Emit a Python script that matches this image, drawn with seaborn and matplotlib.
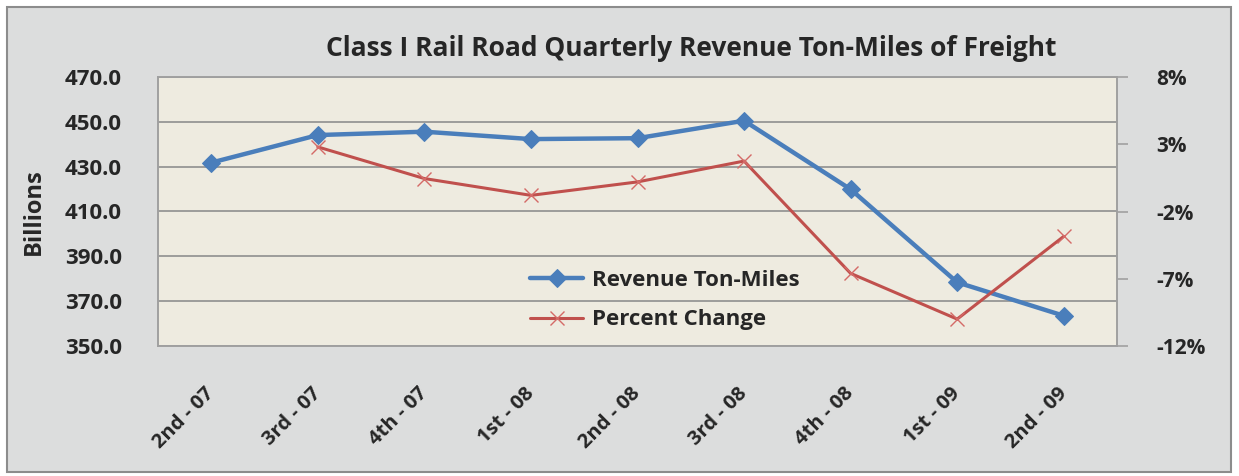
import matplotlib
matplotlib.use("Agg")
import matplotlib.pyplot as plt
import matplotlib.transforms as mtransforms
import seaborn as sns
import numpy as np
import pandas as pd
from matplotlib.patches import Rectangle
from matplotlib.ticker import FuncFormatter, FixedLocator

quarters = ["2nd - 07", "3rd - 07", "4th - 07", "1st - 08", "2nd - 08",
            "3rd - 08", "4th - 08", "1st - 09", "2nd - 09"]
revenue_ton_miles = [431.8, 444.1, 445.6, 442.3, 442.7, 450.5, 419.9, 378.4, 363.5]
percent_change = [np.nan, 2.8, 0.45, -0.8, 0.2, 1.75, -6.6, -10.0, -3.85]
left_ticks = [350, 370, 390, 410, 430, 450, 470]
right_ticks = [-12, -7, -2, 3, 8]

sns.set_theme(style="white")
plt.rcParams['font.family'] = ['Open Sans', 'DejaVu Sans']

W, H = 1239, 476
fig = plt.figure(figsize=(W / 100, H / 100), dpi=100, facecolor="white")
bg = Rectangle((7 / W, 1 - 472 / H), (1231 - 7) / W, (472 - 7) / H,
               transform=fig.transFigure, facecolor="#dcdddd",
               edgecolor="#8c8c8c", linewidth=1.5, zorder=-10)
fig.add_artist(bg)

l, t, r, b = 158, 77, 1117, 346
ax = fig.add_axes([l / W, 1 - b / H, (r - l) / W, (b - t) / H])
ax.set_zorder(1)
ax.set_facecolor("#eeebe0")

df = pd.DataFrame({"pos": np.arange(len(quarters)), "quarter": quarters,
                   "rtm": revenue_ton_miles, "pct": percent_change})

sns.lineplot(data=df, x="pos", y="rtm", ax=ax, color="#4a7ebb", linewidth=3.2,
             marker="D", markersize=9, markeredgecolor="#4a7ebb",
             label="Revenue Ton-Miles", legend=False)
ax.set_ylim(350, 470)
ax.set_xlim(-0.5, len(quarters) - 0.5)
ax.yaxis.set_major_locator(FixedLocator(left_ticks))
ax.yaxis.set_major_formatter(FuncFormatter(lambda v, p: f"{v:.1f}"))
ax.grid(axis="y", color="#8f8f8f", linewidth=1.2)
ax.set_axisbelow(True)
ax.set_xticks(df["pos"])
ax.set_xticklabels(quarters, rotation=45, ha="right", rotation_mode="anchor",
                   fontsize=14.5, fontweight="bold")
ax.tick_params(axis="x", length=0, pad=27)
shift = mtransforms.ScaledTranslation(-7 / 100, 0, fig.dpi_scale_trans)
for lab in ax.get_xticklabels():
    lab.set_transform(lab.get_transform() + shift)
ax.tick_params(axis="y", length=0, pad=26, labelsize=16)
for lab in ax.get_yticklabels():
    lab.set_fontweight("bold")
ax.set_xlabel("")
ax.set_ylabel("Billions", fontsize=17, fontweight="bold", labelpad=14)
for s in ax.spines.values():
    s.set_color("#a0a0a0")
    s.set_linewidth(1.2)

ax2 = ax.twinx()
ax2.set_zorder(2)
ax2.patch.set_visible(False)
sns.lineplot(data=df, x="pos", y="pct", ax=ax2, color="#c0504d", linewidth=2.2,
             marker="x", markersize=10, markeredgewidth=1.0,
             markeredgecolor="#d46a67", label="Percent Change", legend=False)
ax2.set_ylim(-12, 8)
ax2.yaxis.set_major_locator(FixedLocator(right_ticks))
ax2.yaxis.set_major_formatter(FuncFormatter(lambda v, p: f"{v:.0f}%"))
ax2.tick_params(axis="y", direction="out", length=8, width=1.2, color="#a0a0a0",
                pad=20, labelsize=15)
for lab in ax2.get_yticklabels():
    lab.set_fontweight("bold")
ax2.set_ylabel("")
ax2.grid(False)
for s in ax2.spines.values():
    s.set_color("#a0a0a0")
    s.set_linewidth(1.2)

h1, l1 = ax.get_legend_handles_labels()
h2, l2 = ax2.get_legend_handles_labels()
leg = ax2.legend(h1 + h2, l1 + l2, loc="center left",
                 bbox_to_anchor=((530 - l) / (r - l), 1 - (300 - t) / (b - t)),
                 frameon=False, handlelength=2.4, handletextpad=0.4,
                 labelspacing=0.85, borderpad=0, borderaxespad=0,
                 prop={"weight": "bold", "size": 16})

fig.text(691 / W, 1 - 49 / H,
         "Class I Rail Road Quarterly Revenue Ton-Miles of Freight",
         ha="center", va="center", fontsize=19, fontweight="bold")

fig.savefig("out.png", dpi=100, facecolor="white")
